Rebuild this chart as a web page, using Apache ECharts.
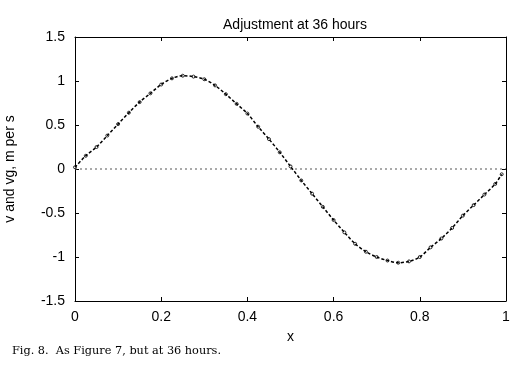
<!DOCTYPE html>
<html>
<head>
<meta charset="utf-8">
<script src="https://cdn.jsdelivr.net/npm/echarts@6/dist/echarts.min.js"></script>
<style>
  html, body { margin: 0; padding: 0; background: #fff; }
  #chart { width: 519px; height: 366px; }
</style>
</head>
<body>
<div id="chart"></div>
<script>
// values
var xs = [0, 0.025, 0.05, 0.075, 0.1, 0.125, 0.15, 0.175, 0.2, 0.225,
          0.25, 0.275, 0.3, 0.325, 0.35, 0.375, 0.4, 0.425, 0.45, 0.475,
          0.5, 0.525, 0.55, 0.575, 0.6, 0.625, 0.65, 0.675, 0.7, 0.725,
          0.75, 0.775, 0.8, 0.825, 0.85, 0.875, 0.9, 0.925, 0.95, 0.975, 0.99];
var v  = [0.02, 0.15, 0.25, 0.38, 0.51, 0.64, 0.76, 0.86, 0.96, 1.03,
          1.06, 1.05, 1.02, 0.95, 0.85, 0.74, 0.63, 0.48, 0.34, 0.19,
          0.03, -0.13, -0.28, -0.43, -0.58, -0.72, -0.85, -0.94, -1.0, -1.04,
          -1.065, -1.05, -1.0, -0.89, -0.79, -0.67, -0.53, -0.41, -0.29, -0.17, -0.06];
var vg = [0.02, 0.15, 0.25, 0.38, 0.51, 0.64, 0.76, 0.86, 0.96, 1.03,
          1.06, 1.05, 1.02, 0.95, 0.85, 0.74, 0.63, 0.48, 0.34, 0.19,
          0.03, -0.13, -0.28, -0.43, -0.58, -0.72, -0.85, -0.94, -1.0, -1.04,
          -1.065, -1.05, -1.0, -0.89, -0.79, -0.67, -0.53, -0.41, -0.29, -0.17, -0.06];
var zeroLine = [[0, 0], [1, 0]];

var font = 'Liberation Sans, Arial, sans-serif';

function pairs(x, y) {
    return x.map(function (d, i) { return [d, y[i]]; });
}

var chart = echarts.init(document.getElementById('chart'));

var baseX = {
    type: 'value', min: 0, max: 1, interval: 0.2,
    axisLine: { show: true, onZero: false, lineStyle: { color: '#000', width: 1 } },
    axisTick: { show: true, inside: true, length: 4, lineStyle: { color: '#000' } },
    splitLine: { show: false }
};
var baseY = {
    type: 'value', min: -1.5, max: 1.5, interval: 0.5,
    axisLine: { show: true, onZero: false, lineStyle: { color: '#000', width: 1 } },
    axisTick: { show: true, inside: true, length: 4, lineStyle: { color: '#000' } },
    splitLine: { show: false }
};

chart.setOption({
    animation: false,
    backgroundColor: '#fff',
    title: {
        text: 'Adjustment at 36 hours',
        left: 290, top: 13, textAlign: 'center',
        textStyle: { fontFamily: font, fontSize: 14, fontWeight: 'normal', color: '#000' }
    },
    grid: { left: 75, right: 13, top: 37, bottom: 65, containLabel: false, outerBoundsMode: 'none' },
    xAxis: [
        Object.assign({}, baseX, {
            position: 'bottom',
            name: 'x', nameLocation: 'middle', nameGap: 29,
            nameTextStyle: { fontFamily: font, fontSize: 14, color: '#000' },
            axisLabel: { fontFamily: font, fontSize: 14, color: '#000', margin: 9,
                formatter: function (val) { return String(+val.toFixed(1)); } }
        }),
        Object.assign({}, baseX, { position: 'top', axisLabel: { show: false } })
    ],
    yAxis: [
        Object.assign({}, baseY, {
            position: 'left',
            name: 'v and vg, m per s', nameLocation: 'middle', nameGap: 58, nameRotate: 90,
            nameTextStyle: { fontFamily: font, fontSize: 14, color: '#000' },
            axisLabel: { fontFamily: font, fontSize: 14, color: '#000', margin: 10,
                formatter: function (val) { return String(+val.toFixed(1)); } }
        }),
        Object.assign({}, baseY, { position: 'right', axisLabel: { show: false } })
    ],
    series: [
        {
            name: 'zero', type: 'line', data: zeroLine, symbol: 'none',
            lineStyle: { color: '#555', width: 1, type: [2, 3] }
        },
        {
            name: 'vg', type: 'line', data: pairs(xs, vg), symbol: 'none', smooth: 0.3,
            lineStyle: { color: '#000', width: 1.5, type: [3, 2] }
        },
        {
            name: 'v', type: 'scatter', data: pairs(xs, v), symbol: 'circle', symbolSize: 3,
            itemStyle: { color: '#fff', borderColor: '#000', borderWidth: 1 }
        }
    ],
    graphic: [{
        type: 'text', left: 12, top: 346,
        style: { text: 'Fig. 8.  As Figure 7, but at 36 hours.', fontFamily: 'DejaVu Serif, Liberation Serif, serif',
                 fontSize: 11.3, fill: '#000' }
    }]
});
</script>
</body>
</html>
